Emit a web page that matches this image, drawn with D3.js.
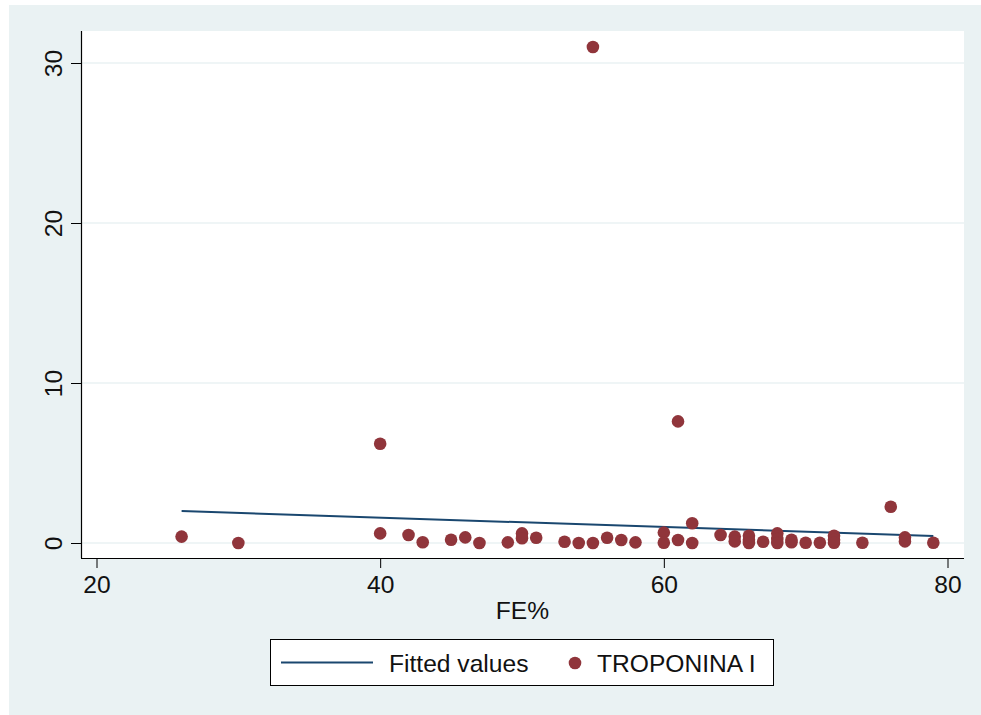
<!DOCTYPE html>
<html lang="en">
<head>
    <meta charset="UTF-8">
    <title>FE% vs Troponina I</title>
    <script src="https://d3js.org/d3.v7.min.js"></script>
    <style>
        body { margin: 0; background: #fff; }
        text { font-family: "Liberation Sans", Arial, Helvetica, sans-serif; fill: #111; }
    </style>
</head>
<body>
    <div id="my_dataviz"></div>

    <script>
        // data
        var feValues = [26, 30, 40, 40, 42, 43, 45, 46, 47, 49, 50, 50, 51, 53, 54, 55, 55, 56, 57, 58,
                        60, 60, 61, 61, 62, 62, 64, 65, 65, 66, 66, 66, 67, 68, 68, 68, 69, 69, 70, 71,
                        72, 72, 72, 74, 76, 77, 77, 79];
        var troponinValues = [0.4, 0, 6.2, 0.6, 0.5, 0.05, 0.2, 0.35, 0, 0.04, 0.6, 0.3, 0.33, 0.08, 0, 31, 0, 0.33, 0.19, 0.04,
                              0.65, 0.02, 7.6, 0.19, 1.23, 0, 0.5, 0.4, 0.1, 0.45, 0.2, 0, 0.08, 0.6, 0.25, 0, 0.2, 0.05, 0.02, 0.02,
                              0.45, 0.2, 0.02, 0.02, 2.27, 0.35, 0.1, 0.02];
        var fitX = [26, 79];
        var fitY = [2.0, 0.44];
        var xTicks = [20, 40, 60, 80];
        var yTicks = [0, 10, 20, 30];
        var legendLabels = ["Fitted values", "TROPONINA I"];

        var W = 981, H = 715;
        var plot = {left: 81, top: 31, right: 964, bottom: 558};
        var navy = "#1a476f", maroon = "#90353b", bg = "#eaf2f3";
        var fontSize = "24.6px";

        var svg = d3.select("#my_dataviz")
            .append("svg")
            .attr("width", W)
            .attr("height", H);

        // outer panel + plot region
        svg.append("rect").attr("x", 9).attr("y", 5).attr("width", W - 9).attr("height", H - 5).attr("fill", bg);
        svg.append("rect")
            .attr("x", plot.left).attr("y", plot.top)
            .attr("width", plot.right - plot.left).attr("height", plot.bottom - plot.top)
            .attr("fill", "#fff");

        var x = d3.scaleLinear().domain([20, 80]).range([96.5, 947.5]);
        var y = d3.scaleLinear().domain([0, 30]).range([543, 63]);

        // gridlines
        svg.append("g").selectAll("line")
            .data(yTicks)
            .enter().append("line")
            .attr("x1", plot.left).attr("x2", plot.right)
            .attr("y1", function(d) { return y(d); })
            .attr("y2", function(d) { return y(d); })
            .attr("stroke", bg).attr("stroke-width", 1.5);

        // axes
        var yAxis = svg.append("g")
            .attr("transform", "translate(" + plot.left + ",0)")
            .call(d3.axisLeft(y).tickValues(yTicks).tickSize(10).tickSizeOuter(0).tickFormat(d3.format("d")));
        yAxis.select(".domain").remove();
        yAxis.selectAll("line").attr("stroke", "#000");
        yAxis.selectAll("text")
            .attr("transform", "rotate(-90)")
            .attr("x", 0).attr("y", -19).attr("dy", 0)
            .attr("text-anchor", "middle")
            .style("font-size", fontSize);

        var xAxis = svg.append("g")
            .attr("transform", "translate(0," + plot.bottom + ")")
            .call(d3.axisBottom(x).tickValues(xTicks).tickSize(10).tickSizeOuter(0).tickFormat(d3.format("d")));
        xAxis.select(".domain").remove();
        xAxis.selectAll("line").attr("stroke", "#000");
        xAxis.selectAll("text")
            .attr("y", 35).attr("dy", 0)
            .style("font-size", fontSize);

        svg.append("line")
            .attr("x1", plot.left + 0.5).attr("x2", plot.left + 0.5)
            .attr("y1", plot.top).attr("y2", plot.bottom)
            .attr("stroke", "#000").attr("stroke-width", 1.2);
        svg.append("line")
            .attr("x1", plot.left).attr("x2", plot.right)
            .attr("y1", plot.bottom + 0.5).attr("y2", plot.bottom + 0.5)
            .attr("stroke", "#000").attr("stroke-width", 1.2);

        svg.append("text")
            .attr("x", (plot.left + plot.right) / 2).attr("y", 619)
            .attr("text-anchor", "middle")
            .style("font-size", fontSize)
            .text("FE%");

        // fitted line
        var line = d3.line()
            .x(function(d) { return x(d[0]); })
            .y(function(d) { return y(d[1]); });
        svg.append("path")
            .datum(d3.zip(fitX, fitY))
            .attr("d", line)
            .attr("fill", "none")
            .attr("stroke", navy)
            .attr("stroke-width", 2);

        // points
        svg.append("g").selectAll("circle")
            .data(d3.zip(feValues, troponinValues))
            .enter().append("circle")
            .attr("cx", function(d) { return x(d[0]); })
            .attr("cy", function(d) { return y(d[1]); })
            .attr("r", 6.3)
            .attr("fill", maroon);

        // legend
        var legend = svg.append("g");
        legend.append("rect")
            .attr("x", 270.5).attr("y", 639.5).attr("width", 503).attr("height", 46)
            .attr("fill", "#fff").attr("stroke", "#000").attr("stroke-width", 1);
        legend.append("line")
            .attr("x1", 281).attr("x2", 373).attr("y1", 662.5).attr("y2", 662.5)
            .attr("stroke", navy).attr("stroke-width", 2);
        legend.append("text")
            .attr("x", 389).attr("y", 672)
            .style("font-size", fontSize)
            .text(legendLabels[0]);
        legend.append("circle")
            .attr("cx", 575).attr("cy", 663).attr("r", 6.3)
            .attr("fill", maroon);
        legend.append("text")
            .attr("x", 597).attr("y", 672)
            .style("font-size", fontSize)
            .text(legendLabels[1]);
    </script>
</body>
</html>
